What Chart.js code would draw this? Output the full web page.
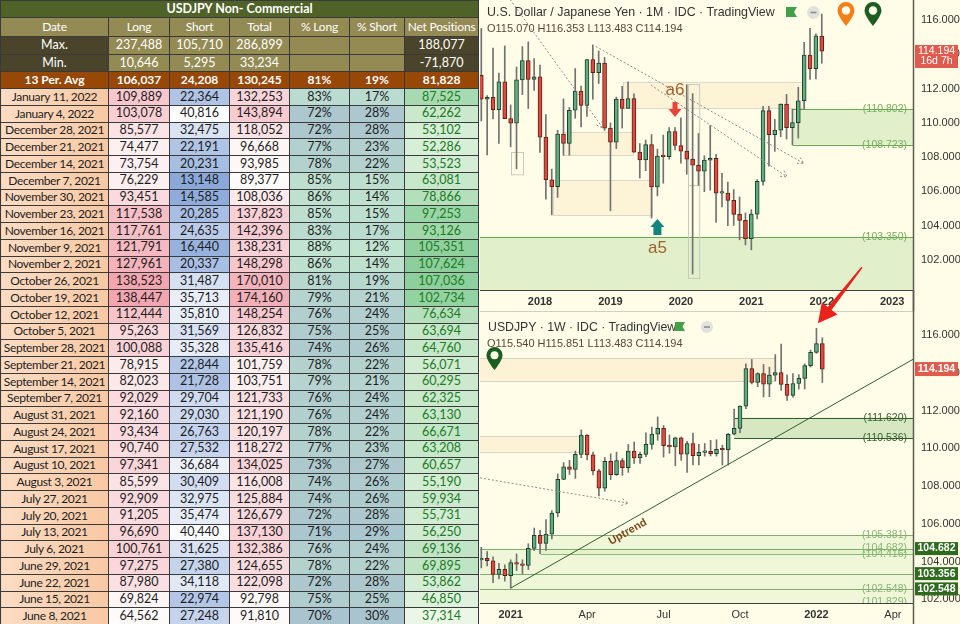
<!DOCTYPE html>
<html>
<head>
<meta charset="utf-8">
<title>USDJPY COT</title>
<script src="https://cdn.jsdelivr.net/npm/chart.js@4.4.1/dist/chart.umd.min.js"></script>
<style>
  html, body { margin: 0; padding: 0; background: #fff; }
  #wrap { position: relative; width: 960px; height: 624px; overflow: hidden; }
  #cot { position: absolute; left: 0; top: 0; width: 478px; border-collapse: collapse; table-layout: fixed;
         font-family: Lato, "Open Sans", sans-serif; font-size: 12.5px; }
  #cot td { border: 1px solid #3a3a3a; padding: 0; text-align: center; white-space: nowrap; overflow: hidden;
            color: #1e1e1e; line-height: 1; }
  #cot td.title { background: #4f6228; color: #fff; font-weight: bold; }
  #cot td.hd { background: #948a54; color: #fff; font-size: 12px; letter-spacing: -0.2px; }
  #cot td.dk { background: #4a452a; color: #fff; }
  #cot td.kh { background: #948a54; color: #fff; }
  #cot td.avg { background: #974706; color: #fff; font-weight: bold; font-size: 12px; }
  #cot td.dt { background: linear-gradient(90deg, #fcdcc3, #f8c8a3); font-size: 12px; letter-spacing: -0.35px; }
  #right { position: absolute; left: 480px; top: 0; width: 480px; height: 624px; background: #fffde7; overflow: hidden; }
  #right canvas { position: absolute; left: 0; }
  .hdr { position: absolute; font-family: "Liberation Sans", Arial, sans-serif; white-space: nowrap; }
  .ico { position: absolute; }
</style>
</head>
<body>
<div id="wrap">
  <table id="cot"></table>
  <div id="right">
    <canvas id="topChart" width="480" height="311" style="top:0;width:480px;height:311px"></canvas>
    <canvas id="botChart" width="480" height="369" style="top:255px;width:480px;height:369px"></canvas>

    <div class="hdr" style="left:7px;top:5px;font-size:12.4px;color:#333">U.S. Dollar / Japanese Yen · 1M · IDC · TradingView</div>
    <div class="hdr" style="left:7px;top:22px;font-size:11px;color:#5a4636">O115.070 H116.353 L113.483 C114.194</div>
    <svg class="ico" style="left:306px;top:7px" width="11" height="10"><path d="M0 0H11L8 5L11 10H0Z" fill="#43a047"/></svg>
    <svg class="ico" style="left:327px;top:6px" width="13" height="13"><circle cx="6.5" cy="6.5" r="6.5" fill="#e2e2dc"/><rect x="3.5" y="5.7" width="6" height="1.6" fill="#8a8a8a"/></svg>
    <svg class="ico" style="left:356px;top:1px" width="20" height="26" viewBox="0 0 20 26"><path d="M10 25C10 25 1.5 15 1.5 9.5A8.5 8.5 0 1 1 18.5 9.5C18.5 15 10 25 10 25Z" fill="#f57f17"/><circle cx="10" cy="9.5" r="4.2" fill="#fffde7"/></svg>
    <svg class="ico" style="left:383px;top:1px" width="20" height="26" viewBox="0 0 20 26"><path d="M10 25C10 25 1.5 15 1.5 9.5A8.5 8.5 0 1 1 18.5 9.5C18.5 15 10 25 10 25Z" fill="#1b5e20"/><circle cx="10" cy="9.5" r="4.2" fill="#fffde7"/></svg>

    <div class="hdr" style="left:8px;top:320px;font-size:12.3px;color:#333">USDJPY · 1W · IDC · TradingView</div>
    <div class="hdr" style="left:7px;top:337px;font-size:11px;color:#5a4636">O115.540 H115.851 L113.483 C114.194</div>
    <svg class="ico" style="left:195px;top:322px" width="10" height="9"><path d="M0 0H10L7.5 4.5L10 9H0Z" fill="#43a047"/></svg>
    <svg class="ico" style="left:221px;top:321px" width="12" height="12"><circle cx="6" cy="6" r="6" fill="#e2e2dc"/><rect x="3" y="5.2" width="6" height="1.6" fill="#8a8a8a"/></svg>
    <svg class="ico" style="left:5px;top:346px" width="19" height="25" viewBox="0 0 20 26"><path d="M10 25C10 25 1.5 15 1.5 9.5A8.5 8.5 0 1 1 18.5 9.5C18.5 15 10 25 10 25Z" fill="#1b5e20"/><circle cx="10" cy="9.5" r="4.2" fill="#fffde7"/></svg>
  </div>
</div>

<script>
// ==========================================
// COT table data (read from the sheet)
// ==========================================
const cotDates = ["January 11, 2022", "January 4, 2022", "December 28, 2021", "December 21, 2021",
  "December 14, 2021", "December 7, 2021", "November 30, 2021", "November 23, 2021", "November 16, 2021",
  "November 9, 2021", "November 2, 2021", "October 26, 2021", "October 19, 2021", "October 12, 2021",
  "October 5, 2021", "September 28, 2021", "September 21, 2021", "September 14, 2021", "September 7, 2021",
  "August 31, 2021", "August 24, 2021", "August 17, 2021", "August 10, 2021", "August 3, 2021",
  "July 27, 2021", "July 20, 2021", "July 13, 2021", "July 6, 2021", "June 29, 2021", "June 22, 2021",
  "June 15, 2021", "June 8, 2021"];
const cotLong = [109889, 103078, 85577, 74477, 73754, 76229, 93451, 117538, 117761, 121791, 127961, 138523,
  138447, 112444, 95263, 100088, 78915, 82023, 92029, 92160, 93434, 90740, 97341, 85599, 92909, 91205, 96690,
  100761, 97275, 87980, 69824, 64562];
const cotShort = [22364, 40816, 32475, 22191, 20231, 13148, 14585, 20285, 24635, 16440, 20337, 31487, 35713,
  35810, 31569, 35328, 22844, 21728, 29704, 29030, 26763, 27532, 36684, 30409, 32975, 35474, 40440, 31625,
  27380, 34118, 22974, 27248];
const cotTotal = [132253, 143894, 118052, 96668, 93985, 89377, 108036, 137823, 142396, 138231, 148298, 170010,
  174160, 148254, 126832, 135416, 101759, 103751, 121733, 121190, 120197, 118272, 134025, 116008, 125884,
  126679, 137130, 132386, 124655, 122098, 92798, 91810];
const cotPctLong = [83, 72, 72, 77, 78, 85, 86, 85, 83, 88, 86, 81, 79, 76, 75, 74, 78, 79, 76, 76, 78, 77, 73,
  74, 74, 72, 71, 76, 78, 72, 75, 70];
const cotPctShort = [17, 28, 28, 23, 22, 15, 14, 15, 17, 12, 14, 19, 21, 24, 25, 26, 22, 21, 24, 24, 22, 23, 27,
  26, 26, 28, 29, 24, 22, 28, 25, 30];
const cotNet = [87525, 62262, 53102, 52286, 53523, 63081, 78866, 97253, 93126, 105351, 107624, 107036, 102734,
  76634, 63694, 64760, 56071, 60295, 62325, 63130, 66671, 63208, 60657, 55190, 59934, 55731, 56250, 69136,
  69895, 53862, 46850, 37314];
const cotHeaders = ["Date", "Long", "Short", "Total", "% Long", "% Short", "Net Positions"];
const cotMax = [237488, 105710, 286899, 188077];
const cotMin = [10646, 5295, 33234, -71870];
const cotAvg = [106037, 24208, 130245, 81, 19, 81828];

// ==========================================
// Monthly candles, Mar 2017 .. Jan 2022
// ==========================================
const monthFirstIndex = 2; // months counted from Jan 2017 = 0
const mOpen = [112.78, 111.39, 111.49, 110.77, 112.39, 110.25, 109.99, 112.51, 113.64, 112.53,
  112.69, 109.17, 106.68, 106.28, 109.34, 108.80, 110.74, 111.86, 111.02, 113.69, 112.93, 113.49,
  109.69, 108.88, 111.39, 110.85, 111.42, 108.29, 107.84, 108.73, 106.27, 108.07, 108.03, 109.50,
  108.68, 108.35, 107.89, 107.53, 107.18, 107.83, 107.93, 105.90, 105.91, 105.48, 104.66, 104.31,
  103.25, 104.68, 106.59, 110.72, 109.31, 109.58, 111.10, 109.72, 110.02, 111.29, 113.95, 113.17,
  115.07];
const mHigh = [115.51, 111.60, 114.37, 112.90, 114.49, 111.05, 113.26, 114.45, 114.73, 113.75,
  113.38, 110.48, 107.30, 109.57, 111.40, 110.90, 113.17, 112.15, 113.70, 114.55, 114.20, 113.82,
  110.00, 111.50, 112.13, 112.40, 111.70, 108.80, 109.00, 109.32, 108.47, 109.29, 109.73, 109.72,
  110.29, 112.23, 111.71, 109.38, 108.08, 109.85, 108.16, 107.05, 106.55, 106.11, 105.68, 104.75,
  104.94, 106.69, 110.97, 110.96, 110.20, 111.11, 111.66, 110.80, 112.08, 114.70, 115.52, 115.20,
  116.35];
const mLow = [110.11, 108.13, 110.23, 108.80, 110.62, 108.60, 107.32, 111.65, 110.84, 111.90,
  108.28, 105.55, 104.63, 105.65, 108.11, 108.12, 110.27, 109.77, 110.38, 111.38, 112.30, 109.56,
  104.87, 108.50, 109.70, 110.84, 108.28, 106.78, 107.21, 104.45, 105.74, 106.48, 107.89, 108.42,
  107.65, 107.00, 101.18, 106.36, 105.99, 106.07, 104.19, 105.10, 104.00, 104.02, 103.18, 102.88,
  102.59, 104.40, 106.37, 107.48, 108.34, 109.19, 109.06, 108.72, 109.11, 110.82, 112.53, 112.56,
  113.48];
const mClose = [111.39, 111.49, 110.77, 112.39, 110.25, 109.99, 112.51, 113.64, 112.53, 112.69,
  109.17, 106.68, 106.28, 109.34, 108.80, 110.74, 111.86, 111.02, 113.69, 112.93, 113.49, 109.69,
  108.88, 111.39, 110.85, 111.42, 108.29, 107.84, 108.73, 106.27, 108.07, 108.03, 109.50, 108.68,
  108.35, 107.89, 107.53, 107.18, 107.83, 107.93, 105.90, 105.91, 105.48, 104.66, 104.31, 103.25,
  104.68, 106.59, 110.72, 109.31, 109.58, 111.10, 109.72, 110.02, 111.29, 113.95, 113.17, 115.08,
  114.19];
const monthTicks = [12, 24, 36, 48, 60, 72];
const monthTickLabels = ["2018", "2019", "2020", "2021", "2022", "2023"];
const monthPriceTicks = [102, 104, 106, 108, 110, 112, 114, 116];

// ==========================================
// Weekly candles, week of Nov 30 2020 .. Jan 10 2022 (week of Jan 4 2021 = 0)
// ==========================================
const weekFirstIndex = -5;
const wOpen = [104.08, 104.17, 104.04, 103.31, 103.58, 103.25, 103.94, 103.86, 103.79, 104.69,
  105.39, 104.95, 105.45, 106.57, 108.35, 109.02, 108.88, 109.67, 110.69, 109.65,
  108.80, 107.88, 109.30, 108.60, 109.35, 108.97, 109.85, 109.48, 109.67, 110.20,
  110.75, 111.05, 110.13, 110.07, 110.55, 109.69, 110.25, 109.60, 109.78, 109.84,
  109.71, 109.94, 109.92, 110.74, 111.05, 112.23, 114.22, 113.49, 113.95, 113.40,
  113.87, 114.01, 113.38, 112.80, 113.43, 113.70, 114.38, 115.08, 115.54];
const wHigh = [104.75, 104.53, 104.24, 103.90, 103.82, 104.09, 104.40, 104.09, 104.94, 105.77,
  105.65, 106.22, 106.69, 108.64, 109.24, 109.36, 109.85, 110.97, 110.72, 109.80,
  108.88, 109.51, 109.70, 109.79, 109.46, 110.20, 110.33, 109.80, 110.82, 111.12,
  111.66, 111.20, 110.70, 110.59, 110.59, 110.37, 110.80, 110.20, 110.25, 110.42,
  110.45, 110.16, 110.79, 112.08, 112.25, 114.47, 114.70, 114.00, 114.44, 114.30,
  114.96, 115.52, 113.89, 113.95, 113.90, 114.47, 115.20, 116.35, 115.85];
const wLow = [103.66, 103.76, 102.88, 103.07, 102.96, 102.59, 103.52, 103.33, 103.57, 104.58,
  104.42, 104.59, 105.20, 106.36, 108.34, 108.61, 108.40, 109.50, 109.38, 108.58,
  107.47, 107.72, 108.34, 108.56, 108.56, 108.72, 109.19, 109.19, 109.55, 109.95,
  110.42, 109.53, 109.73, 109.07, 109.36, 108.72, 109.12, 109.11, 109.58, 109.59,
  109.58, 109.11, 109.11, 110.70, 110.82, 112.10, 113.41, 113.26, 112.72, 112.73,
  113.58, 113.07, 112.53, 112.70, 113.14, 113.14, 114.30, 115.03, 113.48];
const wClose = [104.17, 104.04, 103.31, 103.58, 103.25, 103.94, 103.86, 103.79, 104.69, 105.39,
  104.95, 105.45, 106.57, 108.35, 109.02, 108.88, 109.67, 110.69, 109.65, 108.80,
  107.88, 109.30, 108.60, 109.35, 108.97, 109.85, 109.48, 109.67, 110.20, 110.75,
  111.05, 110.13, 110.07, 110.55, 109.69, 110.25, 109.60, 109.78, 109.84, 109.71,
  109.94, 109.92, 110.74, 111.05, 112.23, 114.22, 113.49, 113.95, 113.40, 113.87,
  114.01, 113.38, 112.80, 113.43, 113.70, 114.38, 115.08, 115.54, 114.19];
const weekTicks = [0, 13, 26, 39, 52, 65];
const weekTickLabels = ["2021", "Apr", "Jul", "Oct", "2022", "Apr"];
const weekPriceTicks = [102, 104, 106, 108, 110, 112, 114, 116];

// ==========================================
// Drawings on the charts (in month/week index and price)
// ==========================================
const monthBoxes = [ // [x1, x2, priceTop, priceBottom]
  [26.1, 56.8, 112.38, 110.87],
  [15.9, 27.8, 109.47, 108.12],
  [14.2, 31.1, 106.67, 104.62]
];
const monthOutlines = [[7.05, 9.1, 108.3, 107.0], [37.2, 39.1, 112.27, 106.37], [37.2, 39.1, 106.37, 100.95]];
const monthZones = [[55.05, null, 110.802, 108.723], [null, null, 103.35, null]];
const monthZoneLabels = [110.802, 108.723, 103.35];
const monthDotted = [ // [x1, p1, x2, p2]
  [6.9, 117.2, 22.7, 109.7],
  [21.5, 114.46, 56.95, 107.64],
  [30.9, 112.21, 54.1, 106.85]
];
const a6 = { x: 35, tip: 110.34, label: 111.9 };
const a5 = { x: 32, tip: 104.39, label: 102.7 };

const weekBoxes = [[-6, 44.95, 114.77, 113.56], [-6, 12.3, 110.65, 109.82]];
const weekZonesLight = [[5.1, null, 105.381, 104.416], [null, null, 104.682, 103.356],
  [null, null, 103.356, 102.548], [null, null, 102.548, null]];
const weekZoneDark = [38.0, null, 111.62, 110.536];
const weekDarkLabels = [111.62, 110.536];
const weekLightLabels = [105.381, 104.682, 104.416, 102.548, 101.829];
const uptrend = [0, 102.59, 68.42, 114.71];
const weekDotted = [-5.22, 108.43, 19.95, 107.09];
const weekGreenTags = [104.682, 103.356, 102.548];
const lastPrice = 114.194;

// ==========================================
// Build the table
// ==========================================
function hex(c) { return [1, 3, 5].map(i => parseInt(c.slice(i, i + 2), 16)); }
function mix(a, b, t) {
  const A = hex(a), B = hex(b);
  return "rgb(" + A.map((v, i) => Math.round(v + (B[i] - v) * t)).join(",") + ")";
}
function frac(arr, v) {
  const lo = Math.min(...arr), hi = Math.max(...arr);
  return (v - lo) / (hi - lo);
}
const fmt = v => v.toLocaleString("en-US");

const colW = [108, 61, 60, 60, 60, 55, 74];
let html = "<colgroup>" + colW.map(w => `<col style="width:${w}px">`).join("") + "</colgroup>";
html += `<tr style="height:17px"><td colspan="7" class="title">USDJPY Non- Commercial</td></tr>`;
html += `<tr style="height:19px">` + cotHeaders.map(h => `<td class="hd">${h}</td>`).join("") + "</tr>";
html += `<tr style="height:18px"><td class="dk">Max.</td>` + cotMax.slice(0, 3).map(v => `<td class="kh">${fmt(v)}</td>`).join("") +
  `<td class="kh"></td><td class="kh"></td><td class="dk">${fmt(cotMax[3])}</td></tr>`;
html += `<tr style="height:17px"><td class="dk">Min.</td>` + cotMin.slice(0, 3).map(v => `<td class="kh">${fmt(v)}</td>`).join("") +
  `<td class="kh"></td><td class="kh"></td><td class="dk">${fmt(cotMin[3])}</td></tr>`;
html += `<tr style="height:17px"><td class="avg">13 Per. Avg</td>` +
  `<td class="avg">${fmt(cotAvg[0])}</td><td class="avg">${fmt(cotAvg[1])}</td><td class="avg">${fmt(cotAvg[2])}</td>` +
  `<td class="avg">${cotAvg[3]}%</td><td class="avg">${cotAvg[4]}%</td><td class="avg">${fmt(cotAvg[5])}</td></tr>`;

cotDates.forEach((d, i) => {
  const cLong = mix("#fffbfb", "#f3a6b0", frac(cotLong, cotLong[i]));
  const cShort = mix("#fdfdff", "#8aa8da", 1 - frac(cotShort, cotShort[i]));
  const cTotal = mix("#fffbfb", "#f4b0b9", frac(cotTotal, cotTotal[i]));
  const cPct = mix("#a9c4ce", "#c0e4cf", frac(cotPctLong, cotPctLong[i]));
  const cNet = mix("#ebf6e7", "#8ccf9c", frac(cotNet, cotNet[i]));
  html += `<tr style="height:16.75px"><td class="dt">${d}</td>` +
    `<td style="background:${cLong}">${fmt(cotLong[i])}</td>` +
    `<td style="background:${cShort}">${fmt(cotShort[i])}</td>` +
    `<td style="background:${cTotal}">${fmt(cotTotal[i])}</td>` +
    `<td style="background:${cPct}">${cotPctLong[i]}%</td>` +
    `<td style="background:${cPct}">${cotPctShort[i]}%</td>` +
    `<td style="background:${cNet};color:#217a24">${fmt(cotNet[i])}</td></tr>`;
});
document.getElementById("cot").innerHTML = html;

// ==========================================
// Candle helpers
// ==========================================
const GREEN_FILL = "#5fae82", GREEN_EDGE = "#1f3b29";
const RED_FILL = "#e2483e", RED_EDGE = "#5a211c";
const WICK = "#727272";
const FONT = "'Liberation Sans', Arial, sans-serif";

function candleSets(first, o, h, l, c) {
  const xs = o.map((_, i) => first + i);
  const up = o.map((v, i) => c[i] >= v);
  return [
    { data: xs.map((x, i) => ({ x, y: [l[i], h[i]] })), backgroundColor: WICK,
      barThickness: 1, grouped: false, order: 2 },
    { data: xs.map((x, i) => ({ x, y: [o[i], c[i]] })),
      backgroundColor: up.map(u => u ? GREEN_FILL : RED_FILL),
      borderColor: up.map(u => u ? GREEN_EDGE : RED_EDGE),
      borderWidth: 1, borderSkipped: false, barThickness: 4, minBarLength: 1.5, grouped: false, order: 1 }
  ];
}

function chartOptions(cfg) {
  return {
    responsive: false, animation: false, maintainAspectRatio: false,
    layout: { padding: { top: cfg.padTop, left: 0, right: 0, bottom: 0 } },
    plugins: { legend: { display: false }, tooltip: { enabled: false } },
    scales: {
      x: {
        type: "linear", min: cfg.xMin, max: cfg.xMax, offset: false, bounds: "data",
        grid: { display: false, drawTicks: false },
        border: { display: true, color: "#3f3f3f", width: 1 },
        afterBuildTicks: s => { s.ticks = cfg.xTicks.map(v => ({ value: v })); },
        afterFit: s => { s.height = 21; s.paddingLeft = 0; s.paddingRight = 0; },
        ticks: {
          padding: 5, color: "#333", maxRotation: 0, autoSkip: false,
          font: c => ({ family: FONT, size: 11, weight: cfg.boldTick(c.index) ? "bold" : "normal" }),
          callback: (v, i) => cfg.xLabels[i]
        }
      },
      y: {
        position: "right", min: cfg.yMin, max: cfg.yMax, bounds: "data", beginAtZero: false,
        grid: { display: false, drawTicks: false },
        border: { display: true, color: "#555", width: 1 },
        afterBuildTicks: s => { s.ticks = cfg.yTicks.map(v => ({ value: v })); },
        afterFit: s => { s.width = 47; s.paddingTop = 0; s.paddingBottom = 0; },
        ticks: { padding: 8, color: "#333", font: { family: FONT, size: 11 }, callback: v => v.toFixed(3) }
      }
    }
  };
}

// drawing helpers in data units
function zone(chart, z, fill, stroke, boxed) {
  const a = chart.chartArea, ctx = chart.ctx;
  const x1 = z[0] === null ? a.left : chart.scales.x.getPixelForValue(z[0]);
  const x2 = z[1] === null ? a.right : chart.scales.x.getPixelForValue(z[1]);
  const y1 = chart.scales.y.getPixelForValue(z[2]);
  const y2 = z[3] === null ? a.bottom : chart.scales.y.getPixelForValue(z[3]);
  if (fill) { ctx.fillStyle = fill; ctx.fillRect(x1, y1, x2 - x1, y2 - y1); }
  if (!stroke) return;
  ctx.strokeStyle = stroke; ctx.lineWidth = 1;
  if (boxed) {
    ctx.strokeRect(Math.round(x1) + 0.5, Math.round(y1) + 0.5, Math.round(x2 - x1), Math.round(y2 - y1));
    return;
  }
  ctx.beginPath(); ctx.moveTo(x1, Math.round(y1) + 0.5); ctx.lineTo(x2, Math.round(y1) + 0.5);
  if (z[3] !== null) { ctx.moveTo(x1, Math.round(y2) + 0.5); ctx.lineTo(x2, Math.round(y2) + 0.5); }
  ctx.stroke();
}
function outline(chart, z, color) {
  const ctx = chart.ctx, s = chart.scales;
  const x1 = s.x.getPixelForValue(z[0]), x2 = s.x.getPixelForValue(z[1]);
  const y1 = s.y.getPixelForValue(z[2]), y2 = s.y.getPixelForValue(z[3]);
  ctx.strokeStyle = color; ctx.lineWidth = 1;
  ctx.strokeRect(Math.round(x1) + 0.5, Math.round(y1) + 0.5, x2 - x1, y2 - y1);
}
function dottedArrow(chart, seg, color) {
  const ctx = chart.ctx, s = chart.scales;
  const x1 = s.x.getPixelForValue(seg[0]), y1 = s.y.getPixelForValue(seg[1]);
  const x2 = s.x.getPixelForValue(seg[2]), y2 = s.y.getPixelForValue(seg[3]);
  ctx.strokeStyle = color; ctx.lineWidth = 1; ctx.setLineDash([2, 2]);
  ctx.beginPath(); ctx.moveTo(x1, y1); ctx.lineTo(x2, y2); ctx.stroke();
  const ang = Math.atan2(y2 - y1, x2 - x1);
  ctx.beginPath();
  ctx.moveTo(x2 - 7 * Math.cos(ang - 0.5), y2 - 7 * Math.sin(ang - 0.5));
  ctx.lineTo(x2, y2);
  ctx.lineTo(x2 - 7 * Math.cos(ang + 0.5), y2 - 7 * Math.sin(ang + 0.5));
  ctx.stroke();
  ctx.setLineDash([]);
}
function blockArrow(ctx, cx, tipY, dir, headW, headH, stemW, stemH, color) {
  // dir = 1 points down, -1 points up
  ctx.fillStyle = color;
  ctx.beginPath();
  ctx.moveTo(cx, tipY);
  ctx.lineTo(cx - headW / 2, tipY - dir * headH);
  ctx.lineTo(cx - stemW / 2, tipY - dir * headH);
  ctx.lineTo(cx - stemW / 2, tipY - dir * (headH + stemH));
  ctx.lineTo(cx + stemW / 2, tipY - dir * (headH + stemH));
  ctx.lineTo(cx + stemW / 2, tipY - dir * headH);
  ctx.lineTo(cx + headW / 2, tipY - dir * headH);
  ctx.closePath(); ctx.fill();
}
function zoneLabel(chart, price, color) {
  const ctx = chart.ctx, a = chart.chartArea;
  ctx.fillStyle = color; ctx.font = "10.5px " + FONT; ctx.textAlign = "right"; ctx.textBaseline = "middle";
  ctx.fillText("(" + price.toFixed(3) + ")", a.right - 6, chart.scales.y.getPixelForValue(price));
}
function clipArea(chart) {
  const a = chart.chartArea;
  chart.ctx.save(); chart.ctx.beginPath(); chart.ctx.rect(a.left, a.top, a.width, a.height); chart.ctx.clip();
}

// ==========================================
// Monthly chart
// ==========================================
const monthMarks = {
  id: "monthMarks",
  beforeDatasetsDraw(chart) {
    clipArea(chart);
    monthBoxes.forEach(b => zone(chart, b, "rgba(251,232,196,0.45)", "#dcd7c8", true));
    monthZones.forEach(z => zone(chart, z, "rgba(170,215,150,0.35)", "#6aa84f"));
    monthOutlines.forEach(b => outline(chart, b, "#c9c9c0"));
    chart.ctx.restore();
  },
  afterDatasetsDraw(chart) {
    const ctx = chart.ctx, s = chart.scales;
    clipArea(chart);
    monthDotted.forEach(seg => dottedArrow(chart, seg, "#8a8a8a"));
    blockArrow(ctx, s.x.getPixelForValue(a6.x), s.y.getPixelForValue(a6.tip), 1, 13, 8, 5, 7, "#e8423a");
    blockArrow(ctx, s.x.getPixelForValue(a5.x), s.y.getPixelForValue(a5.tip), -1, 14, 8, 8, 8, "#12837f");
    ctx.fillStyle = "#a0612a"; ctx.font = "17px " + FONT; ctx.textAlign = "center"; ctx.textBaseline = "middle";
    ctx.fillText("a6", s.x.getPixelForValue(a6.x), s.y.getPixelForValue(a6.label));
    ctx.fillText("a5", s.x.getPixelForValue(a5.x), s.y.getPixelForValue(a5.label));
    monthZoneLabels.forEach(p => zoneLabel(chart, p, "#78ad5f"));
    ctx.restore();
  },
  afterDraw(chart) {
    const ctx = chart.ctx, a = chart.chartArea;
    ctx.strokeStyle = "#5c5c50"; ctx.lineWidth = 1.5;
    ctx.beginPath(); ctx.moveTo(a.right + 0.5, 0); ctx.lineTo(a.right + 0.5, chart.height); ctx.stroke();
    const yy = chart.scales.y.getPixelForValue(lastPrice);
    ctx.fillStyle = "#e05a4e"; ctx.fillRect(a.right + 2, yy - 6, 43, 23);
    ctx.fillStyle = "#fff"; ctx.font = "10.5px " + FONT; ctx.textAlign = "center"; ctx.textBaseline = "middle";
    ctx.fillText(lastPrice.toFixed(3), a.right + 23.5, yy);
    ctx.fillText("16d 7h", a.right + 23.5, yy + 10.5);
  }
};

new Chart(document.getElementById("topChart"), {
  type: "bar",
  data: { datasets: candleSets(monthFirstIndex, mOpen, mHigh, mLow, mClose) },
  options: chartOptions({
    padTop: 0, xMin: 1.78, xMax: 75.54, xTicks: monthTicks, xLabels: monthTickLabels,
    boldTick: () => true, yMin: 100.25, yMax: 117.17, yTicks: monthPriceTicks
  }),
  plugins: [monthMarks]
});

// ==========================================
// Weekly chart
// ==========================================
const weekMarks = {
  id: "weekMarks",
  beforeDatasetsDraw(chart) {
    clipArea(chart);
    weekBoxes.forEach(b => zone(chart, b, "rgba(251,234,200,0.55)", "#d6d1c3", true));
    weekZonesLight.forEach(z => zone(chart, z, "rgba(185,222,165,0.22)", "#7fae6e"));
    zone(chart, weekZoneDark, "rgba(140,190,125,0.35)", "#2f5d2f");
    chart.ctx.restore();
  },
  afterDatasetsDraw(chart) {
    const ctx = chart.ctx, s = chart.scales;
    clipArea(chart);
    // uptrend line
    const x1 = s.x.getPixelForValue(uptrend[0]), y1 = s.y.getPixelForValue(uptrend[1]);
    const x2 = s.x.getPixelForValue(uptrend[2]), y2 = s.y.getPixelForValue(uptrend[3]);
    ctx.strokeStyle = "#2f5d2f"; ctx.lineWidth = 1;
    ctx.beginPath(); ctx.moveTo(x1, y1); ctx.lineTo(x2, y2); ctx.stroke();
    const ang = Math.atan2(y2 - y1, x2 - x1);
    const tx = x1 + (x2 - x1) * 0.28, ty = y1 + (y2 - y1) * 0.28;
    ctx.save();
    ctx.translate(tx - 9 * Math.sin(ang), ty + 9 * Math.cos(ang));
    ctx.rotate(ang);
    ctx.fillStyle = "#7a4a1c"; ctx.font = "bold 11px " + FONT; ctx.textAlign = "center"; ctx.textBaseline = "middle";
    ctx.fillText("Uptrend", 0, 0);
    ctx.restore();
    dottedArrow(chart, weekDotted, "#8a8a8a");
    weekDarkLabels.forEach(p => zoneLabel(chart, p, "#35602f"));
    weekLightLabels.forEach(p => zoneLabel(chart, p, "#86b573"));
    ctx.restore();
  },
  afterDraw(chart) {
    const ctx = chart.ctx, a = chart.chartArea, s = chart.scales;
    // separator and price axis line
    ctx.strokeStyle = "#cfcfc2"; ctx.lineWidth = 1;
    ctx.beginPath(); ctx.moveTo(0, a.top + 0.5); ctx.lineTo(a.right, a.top + 0.5); ctx.stroke();
    ctx.strokeStyle = "#5c5c50"; ctx.lineWidth = 1.5;
    ctx.beginPath(); ctx.moveTo(a.right + 0.5, a.top - 21); ctx.lineTo(a.right + 0.5, chart.height); ctx.stroke();
    // price tags
    ctx.font = "bold 10.5px " + FONT; ctx.textAlign = "center"; ctx.textBaseline = "middle";
    let yy = s.y.getPixelForValue(lastPrice);
    ctx.fillStyle = "#e05a4e"; ctx.fillRect(a.right + 2, yy - 7, 43, 14);
    ctx.fillStyle = "#fff"; ctx.fillText(lastPrice.toFixed(3), a.right + 23.5, yy);
    weekGreenTags.forEach(p => {
      yy = s.y.getPixelForValue(p);
      ctx.fillStyle = "#2f6b1f"; ctx.fillRect(a.right + 2, yy - 6.5, 43, 13);
      ctx.fillStyle = "#fff"; ctx.fillText(p.toFixed(3), a.right + 23.5, yy);
    });
    // red pointer arrow to the last high
    const tipX = s.x.getPixelForValue(52) + 1.5, tipY = s.y.getPixelForValue(116.35) - 5;
    const tailX = tipX + 44, tailY = tipY - 56;
    const ang = Math.atan2(tipY - tailY, tipX - tailX);
    const hl = 19, hw = 10;
    const bx = tipX - hl * Math.cos(ang), by = tipY - hl * Math.sin(ang);
    const nx = -Math.sin(ang), ny = Math.cos(ang);
    ctx.fillStyle = "#e8231c";
    ctx.beginPath();
    ctx.moveTo(tailX + nx * 0.8, tailY + ny * 0.8);
    ctx.lineTo(bx + nx * 2.4, by + ny * 2.4);
    ctx.lineTo(bx + nx * hw, by + ny * hw);
    ctx.lineTo(tipX, tipY);
    ctx.lineTo(bx - nx * hw, by - ny * hw);
    ctx.lineTo(bx - nx * 2.4, by - ny * 2.4);
    ctx.lineTo(tailX - nx * 0.8, tailY - ny * 0.8);
    ctx.closePath(); ctx.fill();
  }
};

new Chart(document.getElementById("botChart"), {
  type: "bar",
  data: { datasets: candleSets(weekFirstIndex, wOpen, wHigh, wLow, wClose) },
  options: chartOptions({
    padTop: 56, xMin: -5.22, xMax: 68.42, xTicks: weekTicks, xLabels: weekTickLabels,
    boldTick: i => (weekTickLabels[i] || "").length === 4, yMin: 101.8, yMax: 117.27, yTicks: weekPriceTicks
  }),
  plugins: [weekMarks]
});
</script>
</body>
</html>
